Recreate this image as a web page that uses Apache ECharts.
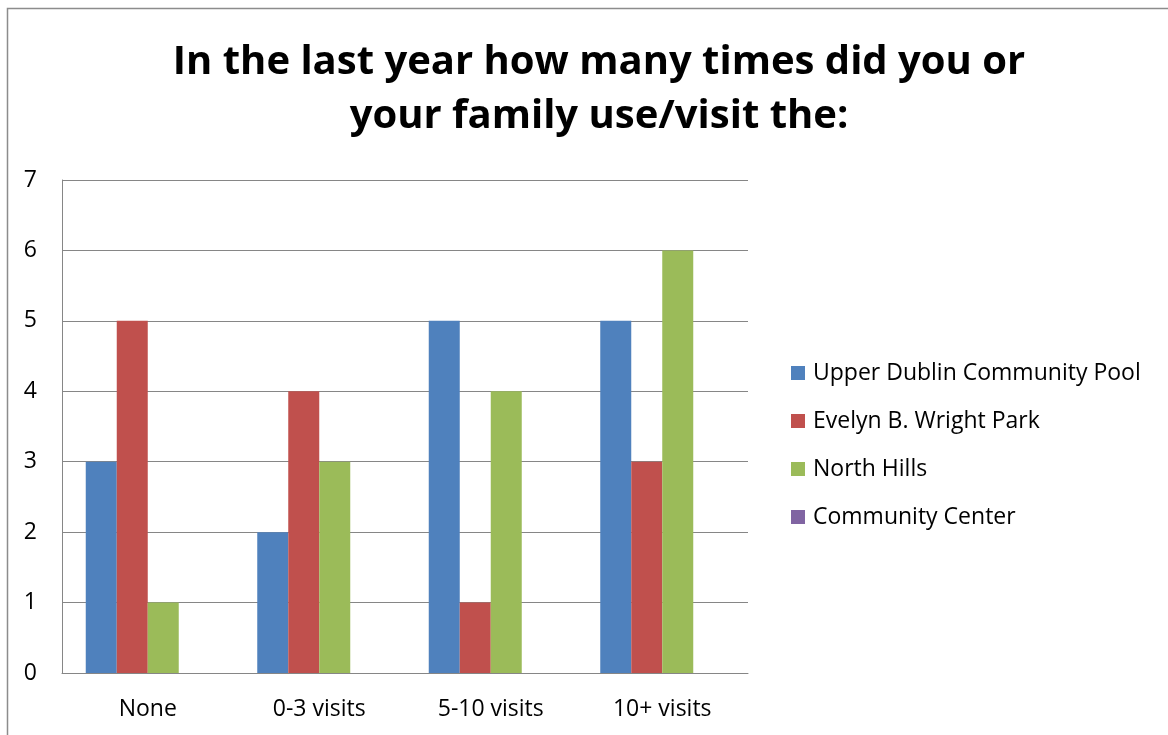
<!DOCTYPE html>
<html>
<head>
<meta charset="utf-8">
<script src="https://cdn.jsdelivr.net/npm/echarts@6/dist/echarts.min.js"></script>
<style>
html,body{margin:0;padding:0;background:#fff;}
#chart{width:1168px;height:735px;}
</style>
</head>
<body>
<div id="chart"></div>
<script>
const titleText = 'In the last year how many times did you or\nyour family use/visit the:';
const categories = ['None', '0-3 visits', '5-10 visits', '10+ visits'];
const seriesNames = ['Upper Dublin Community Pool', 'Evelyn B. Wright Park', 'North Hills', 'Community Center'];
const poolValues = [3, 2, 5, 5];
const parkValues = [5, 4, 1, 3];
const northHillsValues = [1, 3, 4, 6];
const centerValues = [0, 0, 0, 0];
const yTicks = [0, 1, 2, 3, 4, 5, 6, 7];
const colors = ['#4F81BD', '#C0504D', '#9BBB59', '#8064A2'];

const FONT = '"Open Sans", "Noto Sans", sans-serif';
const allValues = [poolValues, parkValues, northHillsValues, centerValues];

const chart = echarts.init(document.getElementById('chart'), null, {renderer: 'canvas'});
chart.setOption({
  animation: false,
  backgroundColor: '#ffffff',
  color: colors,
  title: {
    text: titleText,
    left: 594,
    top: 31,
    textAlign: 'center',
    textStyle: {fontFamily: FONT, fontWeight: 'bold', fontSize: 40, lineHeight: 54, color: '#000'}
  },
  graphic: [{
    type: 'rect',
    shape: {x: 7.5, y: 8.5, width: 1180, height: 760},
    style: {fill: 'none', stroke: '#8c8c8c', lineWidth: 1.5},
    silent: true
  }],
  legend: {
    orient: 'vertical',
    left: 791,
    top: 361,
    padding: 0,
    itemWidth: 14,
    itemHeight: 14,
    itemGap: 24,
    icon: 'rect',
    selectedMode: false,
    textStyle: {fontFamily: FONT, fontSize: 23, lineHeight: 24, color: '#000', padding: [0, 0, 0, 3]},
    data: seriesNames
  },
  grid: {left: 62, top: 180, right: 420, bottom: 62, containLabel: false},
  xAxis: {
    type: 'category',
    data: categories,
    axisLine: {show: true, lineStyle: {color: '#868686', width: 1}},
    axisTick: {show: false},
    axisLabel: {fontFamily: FONT, fontSize: 23, color: '#000', margin: 25},
    splitLine: {show: false}
  },
  yAxis: {
    type: 'value',
    min: yTicks[0],
    max: yTicks[yTicks.length - 1],
    interval: 1,
    axisLine: {show: true, lineStyle: {color: '#868686', width: 1}},
    axisTick: {show: false},
    axisLabel: {fontFamily: FONT, fontSize: 23, color: '#000', margin: 25},
    splitLine: {show: true, lineStyle: {color: '#868686', width: 1}}
  },
  series: seriesNames.map((name, i) => ({
    name: name,
    type: 'bar',
    data: allValues[i],
    barGap: '0%',
    barCategoryGap: '27.7%',
    itemStyle: {color: colors[i]}
  }))
});
</script>
</body>
</html>
